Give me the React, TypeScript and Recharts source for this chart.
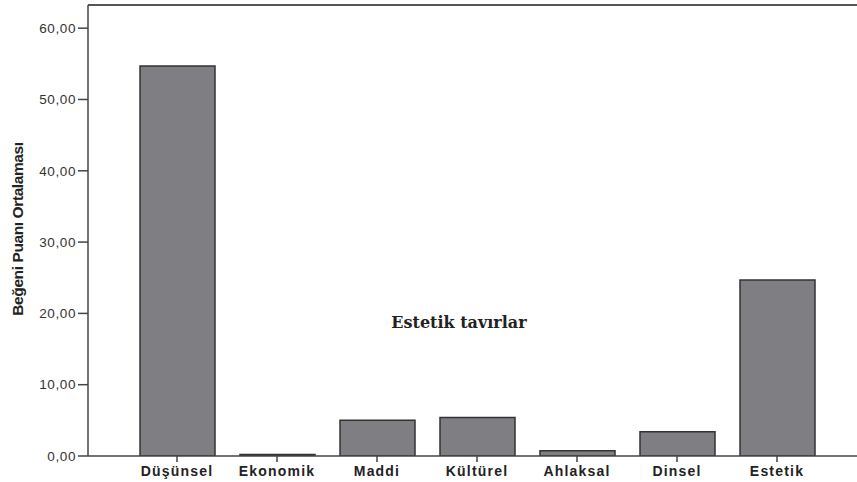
import React from "react";
import { BarChart, Bar, XAxis, YAxis, ReferenceLine, Label } from "recharts";

const categories = ["Düşünsel", "Ekonomik", "Maddi", "Kültürel", "Ahlaksal", "Dinsel", "Estetik"];
const values = [54.7, 0.2, 5.0, 5.4, 0.75, 3.4, 24.7];
const yTicks = [0, 10, 20, 30, 40, 50, 60];
const yLabel = "Beğeni Puanı Ortalaması";
const innerLabel = "Estetik tavırlar";

const data = categories.map((c, i) => ({ name: c, value: values[i] }));
const Y_MAX = 63.25;

const YLabelContent = () => (
  <text
    x={0}
    y={0}
    transform="translate(23, 229) rotate(-90)"
    textAnchor="middle"
    style={{ fill: "#222", fontSize: 15.5, fontWeight: "bold", fontFamily: "Liberation Sans Narrow, Arial Narrow, Liberation Sans, sans-serif", letterSpacing: -0.4 }}
  >
    {yLabel}
  </text>
);

export default function App() {
  return (
    <div style={{ position: "absolute", left: 0, top: 0, width: 857, height: 482, background: "#fff" }}>
      <BarChart width={857} height={482} data={data} margin={{ top: 5, right: 0, bottom: 0, left: 0 }}>
        <XAxis
          dataKey="name"
          height={26}
          padding={{ left: 39, right: 30 }}
          stroke="#444"
          strokeWidth={1.5}
          tickSize={6}
          tickMargin={4}
          tick={{ fill: "#222", fontSize: 14, fontWeight: "bold", fontFamily: "Liberation Sans, Arial, sans-serif", letterSpacing: 1.2 }}
        />
        <YAxis
          width={88}
          domain={[0, Y_MAX]}
          ticks={yTicks}
          allowDataOverflow
          stroke="#444"
          strokeWidth={1.5}
          tickSize={10}
          tickMargin={2}
          tickFormatter={(v: number) => v.toFixed(2).replace(".", ",")}
          tick={{ fill: "#333", fontSize: 13.5, fontFamily: "Liberation Sans, Arial, sans-serif", letterSpacing: 0.6 }}
        >
          <Label content={<YLabelContent />} />
        </YAxis>
        <ReferenceLine y={Y_MAX} stroke="#555" strokeWidth={2} />
        <Bar dataKey="value" fill="#7f7f83" stroke="#333" strokeWidth={1.5} barSize={75} isAnimationActive={false} />
      </BarChart>
      <div
        style={{
          position: "absolute",
          left: 359,
          width: 200,
          top: 313,
          textAlign: "center",
          fontFamily: "DejaVu Serif, Liberation Serif, serif",
          fontWeight: "bold",
          fontSize: 16,
          color: "#222",
        }}
      >
        {innerLabel}
      </div>
    </div>
  );
}
